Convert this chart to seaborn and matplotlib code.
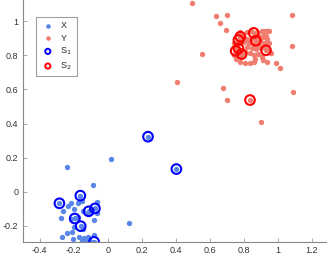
import matplotlib
matplotlib.use("Agg")
import matplotlib.pyplot as plt
import seaborn as sns
import pandas as pd

# ---- data ----
x_x = [-0.237, 0.020, -0.084, 0.124, 0.237, 0.404,
       -0.263, -0.275, -0.235, -0.216, -0.200, -0.173, -0.149, -0.147, -0.216,
       -0.196, -0.210, -0.241, -0.267, -0.204, -0.169, -0.145, -0.137, -0.118,
       -0.125, -0.102, -0.078, -0.063, -0.063, -0.080, -0.118, -0.094, -0.176,
       -0.153, -0.284, -0.161, -0.194, -0.159, -0.112, -0.075, -0.080]
x_y = [0.147, 0.192, 0.037, -0.182, 0.323, 0.133,
       -0.112, -0.155, -0.082, -0.068, -0.102, -0.065, -0.053, -0.112, -0.160,
       -0.205, -0.237, -0.241, -0.264, -0.280, -0.264, -0.221, -0.272, -0.268,
       -0.294, -0.288, -0.256, -0.059, -0.127, -0.164, -0.127, -0.104, -0.147,
       -0.288, -0.068, -0.023, -0.157, -0.202, -0.115, -0.098, -0.294]

y_x = [0.498, 0.635, 0.704, 0.663, 0.694, 0.557, 0.406, 0.676, 0.700, 0.900,
       1.084, 1.084, 1.088, 0.988, 1.014, 0.837,
       0.741, 0.753, 0.780, 0.820, 0.843, 0.878, 0.908, 0.927, 0.937, 0.949,
       0.918, 0.931, 0.912, 0.888, 0.869, 0.843, 0.822, 0.800, 0.829, 0.859,
       0.888, 0.918, 0.937, 0.949, 0.820, 0.849, 0.875, 0.904, 0.927, 0.810,
       0.835, 0.859, 0.882, 0.908, 0.757, 0.776, 0.810, 0.839, 0.863, 0.869,
       0.914, 0.937, 0.761, 0.784, 0.741, 0.794, 0.771, 0.898, 0.937, 0.963,
       0.769, 0.780, 0.859, 0.871, 0.753, 0.769, 0.788, 0.931]
y_y = [1.110, 1.031, 1.035, 0.990, 0.951, 0.808, 0.642, 0.611, 0.538, 0.407,
       1.035, 0.853, 0.587, 0.757, 0.726, 0.538,
       0.871, 0.851, 0.939, 0.935, 0.945, 0.939, 0.945, 0.943, 0.945, 0.943,
       0.930, 0.914, 0.910, 0.914, 0.900, 0.894, 0.894, 0.881, 0.871, 0.867,
       0.861, 0.875, 0.894, 0.871, 0.851, 0.841, 0.836, 0.841, 0.851, 0.822,
       0.812, 0.802, 0.808, 0.793, 0.777, 0.763, 0.753, 0.753, 0.763, 0.777,
       0.773, 0.759, 0.812, 0.793, 0.802, 0.914, 0.871, 0.890, 0.832, 0.812,
       0.890, 0.910, 0.932, 0.886, 0.826, 0.841, 0.808, 0.830]

s1_x = [-0.284, -0.161, -0.194, -0.159, -0.112, -0.075, -0.080, 0.237, 0.404]
s1_y = [-0.068, -0.023, -0.157, -0.202, -0.115, -0.098, -0.294, 0.323, 0.133]

s2_x = [0.769, 0.780, 0.859, 0.871, 0.753, 0.769, 0.788, 0.931, 0.837]
s2_y = [0.890, 0.910, 0.932, 0.886, 0.826, 0.841, 0.808, 0.830, 0.538]

xticks = [-0.4, -0.2, 0, 0.2, 0.4, 0.6, 0.8, 1, 1.2]
xticklabels = ["-0.4", "-0.2", "0", "0.2", "0.4", "0.6", "0.8", "1", "1.2"]
yticks = [-0.2, 0, 0.2, 0.4, 0.6, 0.8, 1]
yticklabels = ["-0.2", "0", "0.2", "0.4", "0.6", "0.8", "1"]

sns.set_style("white")
plt.rcParams['font.family'] = ['Liberation Sans', 'DejaVu Sans']

fig = plt.figure(figsize=(3.27, 2.57), dpi=100)
ax = fig.add_axes([22.7 / 327, 15 / 257, 304.3 / 327, 242 / 257])

blue_pt = "#5a86ea"
red_pt = "#f07d70"

sns.scatterplot(x=x_x, y=x_y, ax=ax, color=blue_pt, s=15, linewidth=0, label="X", zorder=2)
sns.scatterplot(x=y_x, y=y_y, ax=ax, color=red_pt, s=15, linewidth=0, label="Y", zorder=2)
sns.scatterplot(x=s1_x, y=s1_y, ax=ax, s=48, facecolor="none", edgecolor="#0000ff",
                linewidth=1.5, label="S$_1$", zorder=3)
sns.scatterplot(x=s2_x, y=s2_y, ax=ax, s=48, facecolor="none", edgecolor="#ff0000",
                linewidth=1.5, label="S$_2$", zorder=3)

ax.set_xlim(-0.5, 1.29)
ax.set_ylim(-0.295, 1.125)
ax.set_xticks(xticks)
ax.set_xticklabels(xticklabels)
ax.set_yticks(yticks)
ax.set_yticklabels(yticklabels)

for side in ["top", "right"]:
    ax.spines[side].set_visible(False)
for side in ["left", "bottom"]:
    ax.spines[side].set_color("#888888")
    ax.spines[side].set_linewidth(0.8)
ax.tick_params(direction="in", length=3, width=0.6, color="#999999",
               labelsize=6.5, labelcolor="#333333", pad=3,
               left=True, bottom=True)

leg = ax.legend(loc="upper left", bbox_to_anchor=(0.044, 0.93), borderaxespad=0,
                fontsize=6.5, frameon=True, fancybox=False, edgecolor="#888888",
                borderpad=0.5, labelspacing=0.35, handletextpad=0.6,
                handlelength=1.6)
leg.get_frame().set_linewidth(0.8)
hs = leg.legend_handles
hs[0].set_sizes([11])
hs[1].set_sizes([11])
hs[2].set_sizes([14])
hs[3].set_sizes([14])
hs[2].set_linewidth(1.4)
hs[3].set_linewidth(1.4)

fig.savefig("out.png", dpi=100)
